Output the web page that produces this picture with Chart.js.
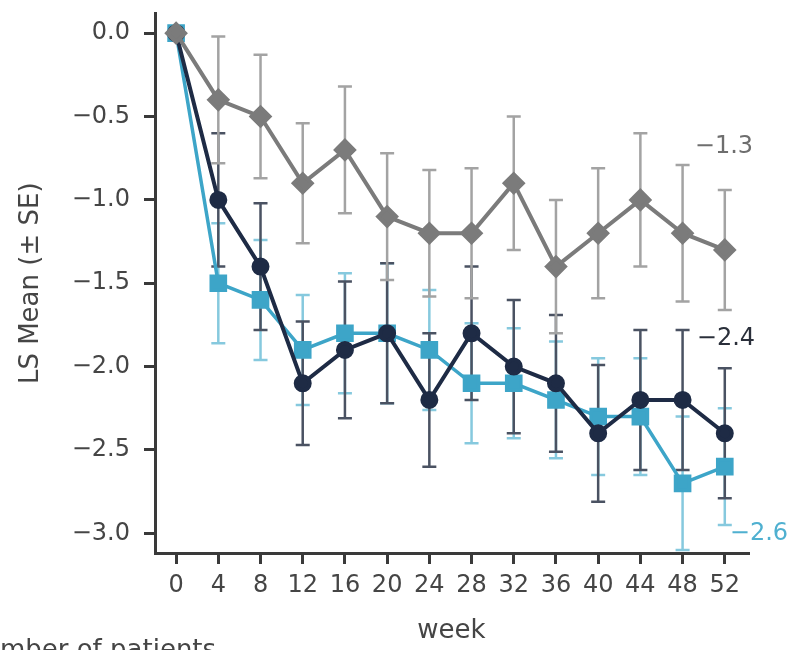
<!DOCTYPE html>
<html>
<head>
<meta charset="utf-8">
<script src="https://cdn.jsdelivr.net/npm/chart.js@4.4.1/dist/chart.umd.min.js"></script>
<style>
  html, body { margin: 0; padding: 0; background: #fff; }
  canvas { display: block; }
</style>
</head>
<body>
<canvas id="myChart" width="792" height="650"></canvas>
<script>
// Weeks on treatment and y tick values
var weeks = [0, 4, 8, 12, 16, 20, 24, 28, 32, 36, 40, 44, 48, 52];
var yTicks = [0, -0.5, -1, -1.5, -2, -2.5, -3];

// LS mean change from baseline (+/- SE) per arm
var greyMean = [0, -0.4, -0.5, -0.9, -0.7, -1.1, -1.2, -1.2, -0.9, -1.4, -1.2, -1.0, -1.2, -1.3];
var greySE = [0, 0.38, 0.37, 0.36, 0.38, 0.38, 0.38, 0.39, 0.4, 0.4, 0.39, 0.4, 0.41, 0.36];

var navyMean = [0, -1.0, -1.4, -2.1, -1.9, -1.8, -2.2, -1.8, -2.0, -2.1, -2.4, -2.2, -2.2, -2.4];
var navySE = [0, 0.4, 0.38, 0.37, 0.41, 0.42, 0.4, 0.4, 0.4, 0.41, 0.41, 0.42, 0.42, 0.39];

var blueMean = [0, -1.5, -1.6, -1.9, -1.8, -1.8, -1.9, -2.1, -2.1, -2.2, -2.3, -2.3, -2.7, -2.6];
var blueSE = [0, 0.36, 0.36, 0.33, 0.36, 0.42, 0.36, 0.36, 0.33, 0.35, 0.35, 0.35, 0.4, 0.35];

var FONT = "'DejaVu Sans', sans-serif";
var AXIS = "#3a3a3a";
var TEXT = "#454545";

function points(means) {
  return weeks.map(function (w, i) { return { x: w, y: means[i] }; });
}

function fmt(v) {
  return v.toFixed(1).replace("-", "\u2212");
}

// vertical SE whiskers with caps, drawn under the lines
var errorBars = {
  id: "errorBars",
  beforeDatasetsDraw: function (chart) {
    var ctx = chart.ctx;
    var xs = chart.scales.x, ys = chart.scales.y;
    for (var d = chart.data.datasets.length - 1; d >= 0; d--) {
      var ds = chart.data.datasets[d];
      ctx.save();
      ctx.strokeStyle = ds.barColor;
      ctx.lineWidth = 2.5;
      ds.data.forEach(function (pt, j) {
        var se = ds.se[j];
        if (!se) return;
        var px = xs.getPixelForValue(pt.x);
        var top = ys.getPixelForValue(pt.y + se);
        var bot = ys.getPixelForValue(pt.y - se);
        ctx.beginPath();
        ctx.moveTo(px, top); ctx.lineTo(px, bot);
        ctx.moveTo(px - 7, top); ctx.lineTo(px + 7, top);
        ctx.moveTo(px - 7, bot); ctx.lineTo(px + 7, bot);
        ctx.stroke();
      });
      ctx.restore();
    }
  }
};

// value at week 52 written beside each line, plus the note under the axis
var endLabels = {
  id: "endLabels",
  afterDraw: function (chart) {
    var ctx = chart.ctx;
    var xs = chart.scales.x, ys = chart.scales.y;
    ctx.save();
    ctx.font = "24px " + FONT;
    ctx.textBaseline = "middle";
    ctx.textAlign = "left";
    chart.data.datasets.forEach(function (ds) {
      var last = ds.data[ds.data.length - 1];
      var px = xs.getPixelForValue(last.x) + ds.labelOffset[0];
      var py = ys.getPixelForValue(last.y) + ds.labelOffset[1];
      ctx.fillStyle = ds.labelColor;
      ctx.fillText(fmt(last.y), px, py);
    });
    ctx.font = "26px " + FONT;
    ctx.fillStyle = TEXT;
    ctx.textBaseline = "alphabetic";
    ctx.fillText("Number of patients", -36, 658);
    ctx.restore();
  }
};

var ctx = document.getElementById("myChart").getContext("2d");
var myChart = new Chart(ctx, {
  type: "line",
  data: {
    datasets: [
      {
        label: "grey",
        data: points(greyMean),
        se: greySE,
        borderColor: "#7b7b7b",
        backgroundColor: "#7b7b7b",
        barColor: "#a3a3a3",
        labelColor: "#6e6e6e",
        labelOffset: [-30, -103],
        borderWidth: 4,
        pointStyle: "rectRot",
        pointRadius: 9,
        order: 1
      },
      {
        label: "navy",
        data: points(navyMean),
        se: navySE,
        borderColor: "#1e2b45",
        backgroundColor: "#1e2b45",
        barColor: "#4a5262",
        labelColor: "#2a2f3a",
        labelOffset: [-28, -95],
        borderWidth: 4,
        pointStyle: "circle",
        pointRadius: 7,
        order: 2
      },
      {
        label: "blue",
        data: points(blueMean),
        se: blueSE,
        borderColor: "#3da5c8",
        backgroundColor: "#3da5c8",
        barColor: "#86c9de",
        labelColor: "#4fb0d0",
        labelOffset: [5, 67],
        borderWidth: 3.5,
        pointStyle: "rect",
        pointRadius: 10,
        order: 3
      }
    ]
  },
  options: {
    responsive: false,
    animation: false,
    events: [],
    layout: { padding: { top: 5, right: 44, bottom: 0, left: 0 } },
    plugins: {
      legend: { display: false },
      tooltip: { enabled: false }
    },
    scales: {
      x: {
        type: "linear",
        min: -2,
        max: 54.2,
        afterBuildTicks: function (scale) {
          scale.ticks = weeks.map(function (w) { return { value: w }; });
        },
        afterFit: function (scale) {
          scale.height = 97;
          scale.paddingLeft = 0;
          scale.paddingRight = 0;
        },
        ticks: {
          autoSkip: false,
          maxRotation: 0,
          padding: 7,
          color: TEXT,
          font: { family: FONT, size: 24 },
          callback: function (v) { return String(v); }
        },
        grid: { drawOnChartArea: false, drawTicks: true, tickLength: 11, lineWidth: 3, color: AXIS },
        border: { display: true, width: 3, color: AXIS },
        title: {
          display: true,
          text: "week",
          color: TEXT,
          font: { family: FONT, size: 26 },
          padding: { top: 0, bottom: 3 }
        }
      },
      y: {
        min: -3.118,
        max: 0.118,
        afterBuildTicks: function (scale) {
          scale.ticks = yTicks.map(function (v) { return { value: v }; });
        },
        afterFit: function (scale) {
          scale.width = 155;
          scale.paddingTop = 0;
          scale.paddingBottom = 0;
        },
        ticks: {
          padding: 14,
          color: TEXT,
          font: { family: FONT, size: 24 },
          callback: function (v) { return fmt(v); }
        },
        grid: { drawOnChartArea: false, drawTicks: true, tickLength: 11, lineWidth: 3, color: AXIS },
        border: { display: true, width: 3, color: AXIS },
        title: {
          display: true,
          text: "LS Mean (\u00b1 SE)",
          color: TEXT,
          font: { family: FONT, size: 26 },
          padding: { top: 16, bottom: 0 }
        }
      }
    }
  },
  plugins: [errorBars, endLabels]
});
</script>
</body>
</html>
